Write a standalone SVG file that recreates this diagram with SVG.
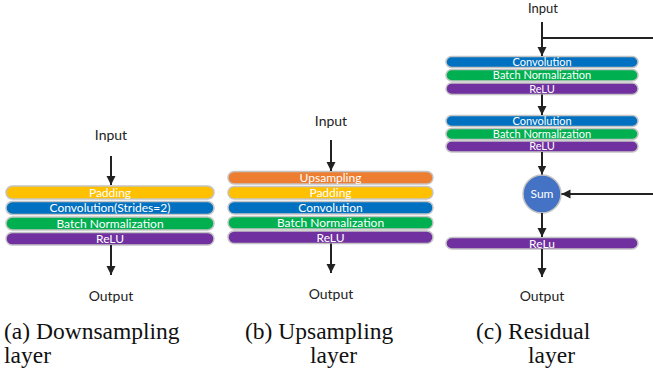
<svg xmlns="http://www.w3.org/2000/svg" width="653" height="374" viewBox="0 0 653 374">
<defs>
<marker id="ah" markerWidth="10" markerHeight="10" refX="9" refY="5" orient="auto" markerUnits="userSpaceOnUse">
<path d="M0,0.5 L9,5 L0,9.5 Z" fill="#222"/>
</marker>
<style>
.bar{stroke:#c4c4c4;stroke-width:1.5}
.bt{font-family:Lato,"Open Sans","DejaVu Sans",sans-serif;font-size:12px;fill:#fff;text-anchor:middle}
.bs{font-size:11px}
.lbl{font-family:Lato,"Open Sans","DejaVu Sans",sans-serif;font-size:14px;fill:#222;text-anchor:middle}
.cap{font-family:"Liberation Serif","Times New Roman",serif;font-size:23.5px;fill:#111}
.ln{stroke:#222;stroke-width:2;fill:none}
.or{fill:#ED7D31}.ye{fill:#FFC000}.bl{fill:#0070C0}.gr{fill:#00B050}.pu{fill:#7030A0}
</style>
</defs>
<rect width="653" height="374" fill="#fff"/>

<!-- Panel a -->
<g id="a-input"><text class="lbl" x="111" y="140">Input</text></g>
<g id="a-padding"><rect class="bar ye" x="6" y="186" width="208" height="13" rx="6.5"/><text class="bt" x="110" y="196.8">Padding</text></g>
<g id="a-conv"><rect class="bar bl" x="6" y="201.5" width="208" height="13" rx="6.5"/><text class="bt" x="110" y="212.3">Convolution(Strides=2)</text></g>
<g id="a-bn"><rect class="bar gr" x="6" y="217" width="208" height="13" rx="6.5"/><text class="bt" x="110" y="227.8">Batch Normalization</text></g>
<g id="a-relu"><rect class="bar pu" x="6" y="232.5" width="208" height="12.5" rx="6.25"/><text class="bt" x="110" y="243">ReLU</text></g>
<g id="a-output"><text class="lbl" x="111" y="301">Output</text></g>

<!-- Panel b -->
<g id="b-input"><text class="lbl" x="331" y="126">Input</text></g>
<g id="b-up"><rect class="bar or" x="228" y="171.5" width="205" height="12.5" rx="6.25"/><text class="bt" x="330.5" y="182">Upsampling</text></g>
<g id="b-padding"><rect class="bar ye" x="228" y="186.5" width="205" height="12.5" rx="6.25"/><text class="bt" x="330.5" y="197">Padding</text></g>
<g id="b-conv"><rect class="bar bl" x="228" y="201.5" width="205" height="12.5" rx="6.25"/><text class="bt" x="330.5" y="212">Convolution</text></g>
<g id="b-bn"><rect class="bar gr" x="228" y="216.5" width="205" height="12.5" rx="6.25"/><text class="bt" x="330.5" y="227">Batch Normalization</text></g>
<g id="b-relu"><rect class="bar pu" x="228" y="231" width="205" height="12.5" rx="6.25"/><text class="bt" x="330.5" y="241.5">ReLU</text></g>
<g id="b-output"><text class="lbl" x="331" y="299">Output</text></g>

<!-- Panel c -->
<g id="c-input"><text class="lbl" x="543" y="13" style="font-size:13px">Input</text></g>
<g id="c-conv1"><rect class="bar bl" x="446" y="56.5" width="192" height="11" rx="5.5"/><text class="bt bs" x="542" y="65.8">Convolution</text></g>
<g id="c-bn1"><rect class="bar gr" x="446" y="69.5" width="192" height="11.5" rx="5.75"/><text class="bt bs" x="542" y="79.2">Batch Normalization</text></g>
<g id="c-relu1"><rect class="bar pu" x="446" y="83" width="192" height="11.5" rx="5.75"/><text class="bt bs" x="542" y="92.7">ReLU</text></g>
<g id="c-conv2"><rect class="bar bl" x="446" y="115.5" width="192" height="11" rx="5.5"/><text class="bt bs" x="542" y="124.8">Convolution</text></g>
<g id="c-bn2"><rect class="bar gr" x="446" y="128.5" width="192" height="11" rx="5.5"/><text class="bt bs" x="542" y="137.8">Batch Normalization</text></g>
<g id="c-relu2"><rect class="bar pu" x="446" y="141" width="192" height="11" rx="5.5"/><text class="bt bs" x="542" y="150.3">ReLU</text></g>
<g id="c-sum"><circle cx="542" cy="194" r="19" fill="#4472C4" stroke="#c4c4c4" stroke-width="1.5"/><text class="bt" x="542" y="198">Sum</text></g>
<g id="c-relu3"><rect class="bar pu" x="446" y="237.5" width="192" height="11.5" rx="5.75"/><text class="bt" x="542" y="247.5">ReLu</text></g>
<g id="c-output"><text class="lbl" x="542" y="301">Output</text></g>

<!-- connectors -->
<g id="connectors">
<line class="ln" x1="111" y1="156" x2="111" y2="185" marker-end="url(#ah)"/>
<line class="ln" x1="111" y1="245" x2="111" y2="275" marker-end="url(#ah)"/>
<line class="ln" x1="331" y1="140" x2="331" y2="171" marker-end="url(#ah)"/>
<line class="ln" x1="331" y1="243.5" x2="331" y2="273" marker-end="url(#ah)"/>
<line class="ln" x1="542" y1="22" x2="542" y2="56" marker-end="url(#ah)"/>
<line class="ln" x1="541" y1="38" x2="653" y2="38"/>
<line class="ln" x1="542" y1="94.5" x2="542" y2="115" marker-end="url(#ah)"/>
<line class="ln" x1="542" y1="152" x2="542" y2="174.5" marker-end="url(#ah)"/>
<line class="ln" x1="653" y1="194" x2="561.5" y2="194" marker-end="url(#ah)"/>
<line class="ln" x1="542" y1="213" x2="542" y2="237" marker-end="url(#ah)"/>
<line class="ln" x1="542" y1="249" x2="542" y2="277" marker-end="url(#ah)"/>
</g>

<!-- captions -->
<g id="captions">
<text class="cap" x="4" y="339">(a) Downsampling</text>
<text class="cap" x="4" y="363">layer</text>
<text class="cap" x="245" y="339">(b) Upsampling</text>
<text class="cap" x="310" y="363">layer</text>
<text class="cap" x="476" y="339">(c) Residual</text>
<text class="cap" x="528" y="363">layer</text>
</g>
</svg>
